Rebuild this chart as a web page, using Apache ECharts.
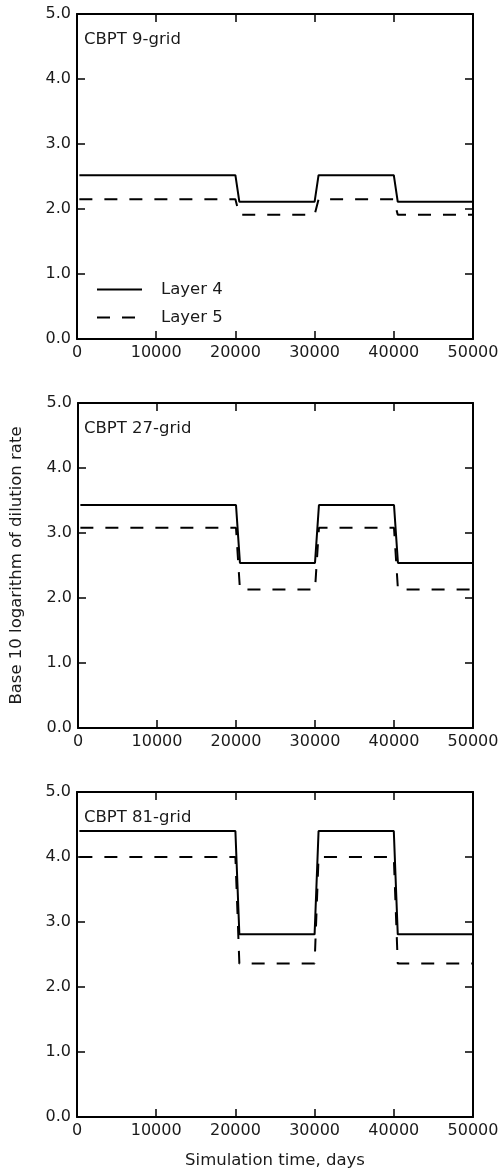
<!DOCTYPE html>
<html>
<head>
<meta charset="utf-8">
<script src="https://cdn.jsdelivr.net/npm/echarts@6/dist/echarts.min.js"></script>
<style>
	html, body { margin: 0; padding: 0; background: #fff; }
	#chart { width: 502px; height: 1172px; }
</style>
</head>
<body>
<div id="chart"></div>
<script>
// 时间点（天）
let days = [300, 20000, 20500, 30000, 30500, 40000, 40500, 50000];
// 各网格的稀释率对数
let grid9_layer4 = [2.52, 2.52, 2.11, 2.11, 2.52, 2.52, 2.11, 2.11];
let grid9_layer5 = [2.15, 2.15, 1.91, 1.91, 2.15, 2.15, 1.91, 1.91];
let grid27_layer4 = [3.43, 3.43, 2.54, 2.54, 3.43, 3.43, 2.54, 2.54];
let grid27_layer5 = [3.08, 3.08, 2.13, 2.13, 3.08, 3.08, 2.13, 2.13];
let grid81_layer4 = [4.40, 4.40, 2.81, 2.81, 4.40, 4.40, 2.81, 2.81];
let grid81_layer5 = [4.00, 4.00, 2.36, 2.36, 4.00, 4.00, 2.36, 2.36];
let panel_titles = ['CBPT 9-grid', 'CBPT 27-grid', 'CBPT 81-grid'];
let layer_names = ['Layer 4', 'Layer 5'];

let font = 'DejaVu Sans';
let text_color = '#1a1a1a';
let panel_tops = [14, 403, 792];
let panel_h = 325;
let panels = [
	[grid9_layer4, grid9_layer5],
	[grid27_layer4, grid27_layer5],
	[grid81_layer4, grid81_layer5],
];

function pair(xs, ys) {
	let out = [];
	for (let i = 0; i < xs.length; i++) {
		out.push([xs[i], ys[i]]);
	}
	return out;
}

let grid = [], xAxis = [], yAxis = [], series = [], title = [];
panel_tops.forEach((top, i) => {
	grid.push({ left: 77, width: 396, top: top, height: panel_h });
	let tick = { show: true, inside: true, length: 8, lineStyle: { color: '#000', width: 1.5 } };
	let line = { show: true, onZero: false, lineStyle: { color: '#000', width: 2 } };
	// 下方与上方x轴
	xAxis.push({
		type: 'value', gridIndex: i, min: 0, max: 50000, interval: 10000,
		axisLine: line, axisTick: tick, splitLine: { show: false },
		axisLabel: { color: text_color, fontFamily: font, fontSize: 16, margin: 6, formatter: (v) => String(v) },
		name: i === 2 ? 'Simulation time, days' : '',
		nameLocation: 'middle', nameGap: 35,
		nameTextStyle: { color: text_color, fontFamily: font, fontSize: 16.5 },
	});
	xAxis.push({
		type: 'value', gridIndex: i, position: 'top', min: 0, max: 50000, interval: 10000,
		axisLine: line, axisTick: tick, splitLine: { show: false }, axisLabel: { show: false },
	});
	// 左侧与右侧y轴
	yAxis.push({
		type: 'value', gridIndex: i, min: 0, max: 5, interval: 1,
		axisLine: line, axisTick: tick, splitLine: { show: false },
		axisLabel: { color: text_color, fontFamily: font, fontSize: 16, margin: 6, formatter: (v) => v.toFixed(1) },
		name: i === 1 ? 'Base 10 logarithm of dilution rate' : '',
		nameLocation: 'middle', nameGap: 53, nameRotate: 90,
		nameTextStyle: { color: text_color, fontFamily: font, fontSize: 16.5 },
	});
	yAxis.push({
		type: 'value', gridIndex: i, position: 'right', min: 0, max: 5, interval: 1,
		axisLine: line, axisTick: tick, splitLine: { show: false }, axisLabel: { show: false },
	});
	title.push({
		text: panel_titles[i], left: 84, top: top + 17, padding: 0,
		textStyle: { color: text_color, fontFamily: font, fontSize: 16.5, fontWeight: 'normal' },
	});
	panels[i].forEach((vals, k) => {
		series.push({
			type: 'line', name: layer_names[k],
			xAxisIndex: 2 * i, yAxisIndex: 2 * i,
			data: pair(days, vals),
			symbol: 'none',
			lineStyle: { color: '#000', width: 2, type: k === 0 ? 'solid' : [13, 12] },
			z: 3,
		});
	});
});

let chart = echarts.init(document.getElementById('chart'));
chart.setOption({
	animation: false,
	backgroundColor: '#fff',
	title: title,
	grid: grid,
	xAxis: xAxis,
	yAxis: yAxis,
	legend: {
		data: layer_names,
		orient: 'vertical',
		left: 96, top: 281, padding: 0,
		itemWidth: 45, itemHeight: 14, itemGap: 11,
		itemStyle: { opacity: 0 },
		textStyle: { color: text_color, fontFamily: font, fontSize: 16.5, padding: [0, 0, 0, 14] },
	},
	series: series,
});
</script>
</body>
</html>
